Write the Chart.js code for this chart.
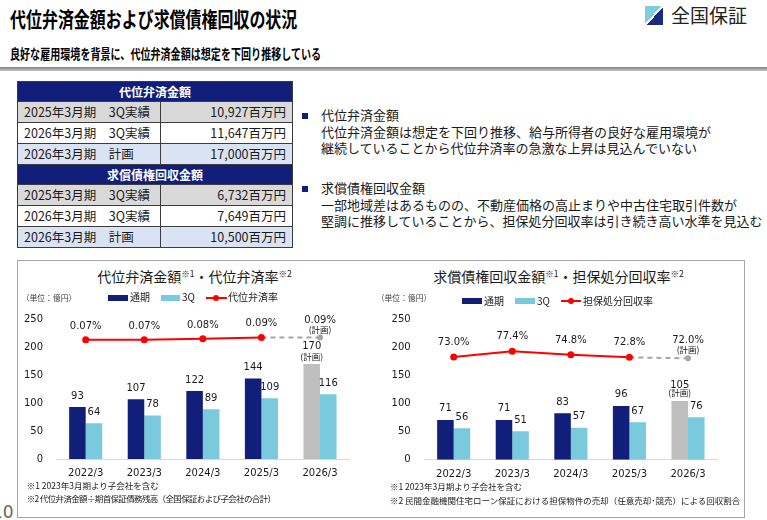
<!DOCTYPE html>
<html lang="ja">
<head>
<meta charset="utf-8">
<script src="https://cdn.jsdelivr.net/npm/chart.js@4.4.1/dist/chart.umd.min.js"></script>
<style>
html,body{margin:0;padding:0;background:#fff}
body{width:767px;height:520px;position:relative;overflow:hidden;font-family:'Noto Sans CJK JP',sans-serif;color:#1a1a1a}
.abs{position:absolute;white-space:nowrap}
.ttl{left:10px;top:6px;font-weight:bold;font-size:21px;line-height:24px;color:#000;transform:scaleX(.76);transform-origin:0 0}
.sub{left:10px;top:45px;font-weight:bold;font-size:13.5px;line-height:16px;color:#000;transform:scaleX(.745);transform-origin:0 0}
.rule{left:0;top:67px;width:767px;height:4px;background:linear-gradient(#808080,#c8c8c8)}
table{position:absolute;left:17px;top:81px;width:275px;border-collapse:collapse;table-layout:fixed;font-size:12.5px}
td,th{border:1px solid #3c3c3c;padding:0 6px;white-space:nowrap}
th{background:#121f7a;color:#fff;font-size:12px;height:19px;line-height:19px}
td{height:20px;line-height:20px}
td.v{text-align:right}
tr.g td{background:#d9d9d9}
tr.b td{background:#dae3f3}
.blt{width:6px;height:6px;background:#121f7a}
.txt{font-size:13px;line-height:16.7px}
.box{left:17px;top:260px;width:726px;height:256px;border:1px solid #a6a6a6}
.ct{font-size:14px;line-height:16px;text-align:center}
.ct sup{font-size:8.5px;vertical-align:5px;line-height:0}
.unit{font-size:7.8px;line-height:10px;color:#404040}
.sw{height:6px}
.lg{font-size:10px;line-height:12px}
.ln{height:2px;background:#ff0000}
.dot{width:6px;height:6px;border-radius:50%;background:#ff0000}
.fn{font-size:8.5px;line-height:13.3px}
.tight{letter-spacing:-0.65px}
.cv{position:absolute}
</style>
</head>
<body>
<div class="abs ttl">代位弁済金額および求償債権回収の状況</div>
<div class="abs sub">良好な雇用環境を背景に、代位弁済金額は想定を下回り推移している</div>
<div class="abs" style="left:645px;top:6px;width:18px;height:19px;background:linear-gradient(to bottom right,#7dcde0 46%,#fff 46%,#fff 54%,#1b2b84 54%)"></div>
<div class="abs" style="left:671px;top:5px;font-size:19px;line-height:20px;color:#222">全国保証</div>
<div class="abs rule"></div>

<table>
  <colgroup><col style="width:143px"><col style="width:132px"></colgroup>
  <tr><th colspan="2">代位弁済金額</th></tr>
  <tr class="g"><td>2025年3月期　3Q実績</td><td class="v">10,927百万円</td></tr>
  <tr><td>2026年3月期　3Q実績</td><td class="v">11,647百万円</td></tr>
  <tr class="b"><td>2026年3月期　計画</td><td class="v">17,000百万円</td></tr>
  <tr><th colspan="2">求償債権回収金額</th></tr>
  <tr class="g"><td>2025年3月期　3Q実績</td><td class="v">6,732百万円</td></tr>
  <tr><td>2026年3月期　3Q実績</td><td class="v">7,649百万円</td></tr>
  <tr class="b"><td>2026年3月期　計画</td><td class="v">10,500百万円</td></tr>
</table>

<div class="abs blt" style="left:302px;top:113px"></div>
<div class="abs txt" style="left:321px;top:107px">代位弁済金額<br>代位弁済金額は想定を下回り推移、給与所得者の良好な雇用環境が<br>継続していることから代位弁済率の急激な上昇は見込んでいない</div>
<div class="abs blt" style="left:302px;top:186px"></div>
<div class="abs txt" style="left:321px;top:180px">求償債権回収金額<br>一部地域差はあるものの、不動産価格の高止まりや中古住宅取引件数が<br>堅調に推移していることから、担保処分回収率は引き続き高い水準を見込む</div>

<div class="abs box"></div>
<div class="abs" style="left:-8px;top:503px;font-family:'DejaVu Sans';font-size:17px;line-height:18px;color:#666">10</div>

<div class="cv" style="left:17px;top:300px;width:363px;height:185px"><canvas id="left"></canvas></div>
<div class="cv" style="left:380px;top:300px;width:363px;height:185px"><canvas id="right"></canvas></div>

<div class="abs ct" style="left:17px;top:268px;width:355px">代位弁済金額<sup>※1</sup>・代位弁済率<sup>※2</sup></div>
<div class="abs unit" style="left:21.7px;top:292.5px">（単位：億円）</div>
<div class="abs sw" style="left:108px;top:294.5px;width:20px;background:#121f7a"></div>
<div class="abs lg" style="left:130px;top:291px">通期</div>
<div class="abs sw" style="left:161px;top:294.5px;width:19px;background:#79cadc"></div>
<div class="abs lg" style="left:182px;top:291px">3Q</div>
<div class="abs ln" style="left:206px;top:296.5px;width:21px"></div>
<div class="abs dot" style="left:213px;top:294.5px"></div>
<div class="abs lg" style="left:228px;top:291px">代位弁済率</div>
<div class="abs fn" style="left:26.7px;top:479px">※1 2023年3月期より子会社を含む<br><span class="tight">※2 代位弁済金額÷期首保証債務残高（全国保証および子会社の合計）</span></div>

<div class="abs ct" style="left:380px;top:268px;width:357px">求償債権回収金額<sup>※1</sup>・担保処分回収率<sup>※2</sup></div>
<div class="abs unit" style="left:376.7px;top:293px">（単位：億円）</div>
<div class="abs sw" style="left:462px;top:298px;width:20px;background:#121f7a"></div>
<div class="abs lg" style="left:484px;top:294.5px">通期</div>
<div class="abs sw" style="left:515px;top:298px;width:20px;background:#79cadc"></div>
<div class="abs lg" style="left:537px;top:294.5px">3Q</div>
<div class="abs ln" style="left:561px;top:300px;width:20px"></div>
<div class="abs dot" style="left:568px;top:298px"></div>
<div class="abs lg" style="left:583px;top:294.5px">担保処分回収率</div>
<div class="abs fn" style="left:390px;top:479px;line-height:14px">※1 2023年3月期より子会社を含む<br>※2 民間金融機関住宅ローン保証における担保物件の売却（任意売却･競売）による回収割合</div>

<script>
// data
const years = ['2022/3', '2023/3', '2024/3', '2025/3', '2026/3'];
const subroFull = [93, 107, 122, 144, 170];
const subro3Q = [64, 78, 89, 109, 116];
const subroRate = [0.07, 0.07, 0.08, 0.09, 0.09];
const recovFull = [71, 71, 83, 96, 105];
const recov3Q = [56, 51, 57, 67, 76];
const recovRate = [73.0, 77.4, 74.8, 72.8, 72.0];
const planIdx = 4;
const planNote = '(計画)';

const NAVY = '#121f7a', AQUA = '#79cadc', PLAN = '#bfbfbf', RED = '#ff0000', PLANLINE = '#a6a6a6';
Chart.defaults.font.family = '"DejaVu Sans"';

// numbers above bars and rate points
const valueLabels = {
  id: 'valueLabels',
  afterDatasetsDraw(chart, args, o) {
    const ctx = chart.ctx;
    ctx.save();
    ctx.textAlign = 'center';
    ctx.textBaseline = 'alphabetic';
    ctx.fillStyle = '#1a1a1a';
    chart.data.datasets.forEach(function (ds, di) {
      const isLine = ds.type === 'line';
      const gap = isLine ? o.line : o.bar;
      chart.getDatasetMeta(di).data.forEach(function (el, i) {
        const v = ds.data[i];
        const txt = isLine ? v.toFixed(o.digits) + '%' : String(v);
        const plan = i === planIdx && (isLine || di === 0);
        ctx.font = '10px "DejaVu Sans"';
        ctx.fillText(txt, el.x, el.y - (plan ? gap[1] : gap[0]));
        if (plan) {
          ctx.font = '8.5px "Noto Sans CJK JP"';
          ctx.fillText(planNote, el.x, el.y - gap[2]);
        }
      });
    });
    ctx.restore();
  }
};

function makeChart(id, full, q3, rate, rateName, rateAxis, lay, lbl) {
  const tickFont = { size: 10, family: '"DejaVu Sans"' };
  new Chart(document.getElementById(id), {
    type: 'bar',
    data: {
      labels: years,
      datasets: [
        { label: '通期', data: full, order: 1, yAxisID: 'y',
          backgroundColor: full.map((v, i) => i === planIdx ? PLAN : NAVY) },
        { label: '3Q', data: q3, order: 1, yAxisID: 'y', backgroundColor: AQUA },
        { type: 'line', label: rateName, data: rate, order: 0, yAxisID: 'y1',
          borderColor: RED, borderWidth: 2, fill: false,
          pointRadius: rate.map((v, i) => i === planIdx ? 3 : 3.5),
          pointBorderWidth: 0,
          pointBackgroundColor: rate.map((v, i) => i === planIdx ? PLANLINE : RED),
          segment: {
            borderColor: c => c.p1DataIndex === planIdx ? PLANLINE : undefined,
            borderDash: c => c.p1DataIndex === planIdx ? [5, 4] : undefined
          } }
      ]
    },
    options: {
      responsive: true,
      maintainAspectRatio: false,
      animation: false,
      layout: { padding: { left: 0, right: lay.right, top: lay.top, bottom: 0 } },
      datasets: { bar: { categoryPercentage: 0.565, barPercentage: 1, borderWidth: 0 } },
      plugins: { legend: { display: false }, tooltip: { enabled: false }, valueLabels: lbl },
      scales: {
        x: {
          grid: { display: false, drawTicks: false },
          border: { display: true, color: '#d9d9d9', width: 1 },
          ticks: { font: tickFont, color: '#1a1a1a', padding: lay.xPad, maxRotation: 0 },
          afterFit: s => { s.height = lay.xH; }
        },
        y: {
          min: 0, max: 250,
          grid: { display: false, drawTicks: false },
          border: { display: false },
          ticks: { stepSize: 50, font: tickFont, color: '#1a1a1a', padding: lay.yPad },
          afterFit: s => { s.width = lay.yW; }
        },
        y1: { display: false, min: rateAxis[0], max: rateAxis[1] }
      }
    },
    plugins: [valueLabels]
  });
}

makeChart('left', subroFull, subro3Q, subroRate, '代位弁済率', [-0.92, 0.24],
  { top: 14.3, right: 30.7, xH: 26, xPad: 8, yW: 39.4, yPad: 13.4 },
  { digits: 2, bar: [8.3, 15, 4.5], line: [11, 14, 4] });

makeChart('right', recovFull, recov3Q, recovRate, '担保処分回収率', [-4, 101],
  { top: 15.7, right: 25.7, xH: 25.3, xPad: 8.8, yW: 44.4, yPad: 13.7 },
  { digits: 1, bar: [8.5, 12.5, 4.5], line: [12, 15, 5] });
</script>
</body>
</html>
